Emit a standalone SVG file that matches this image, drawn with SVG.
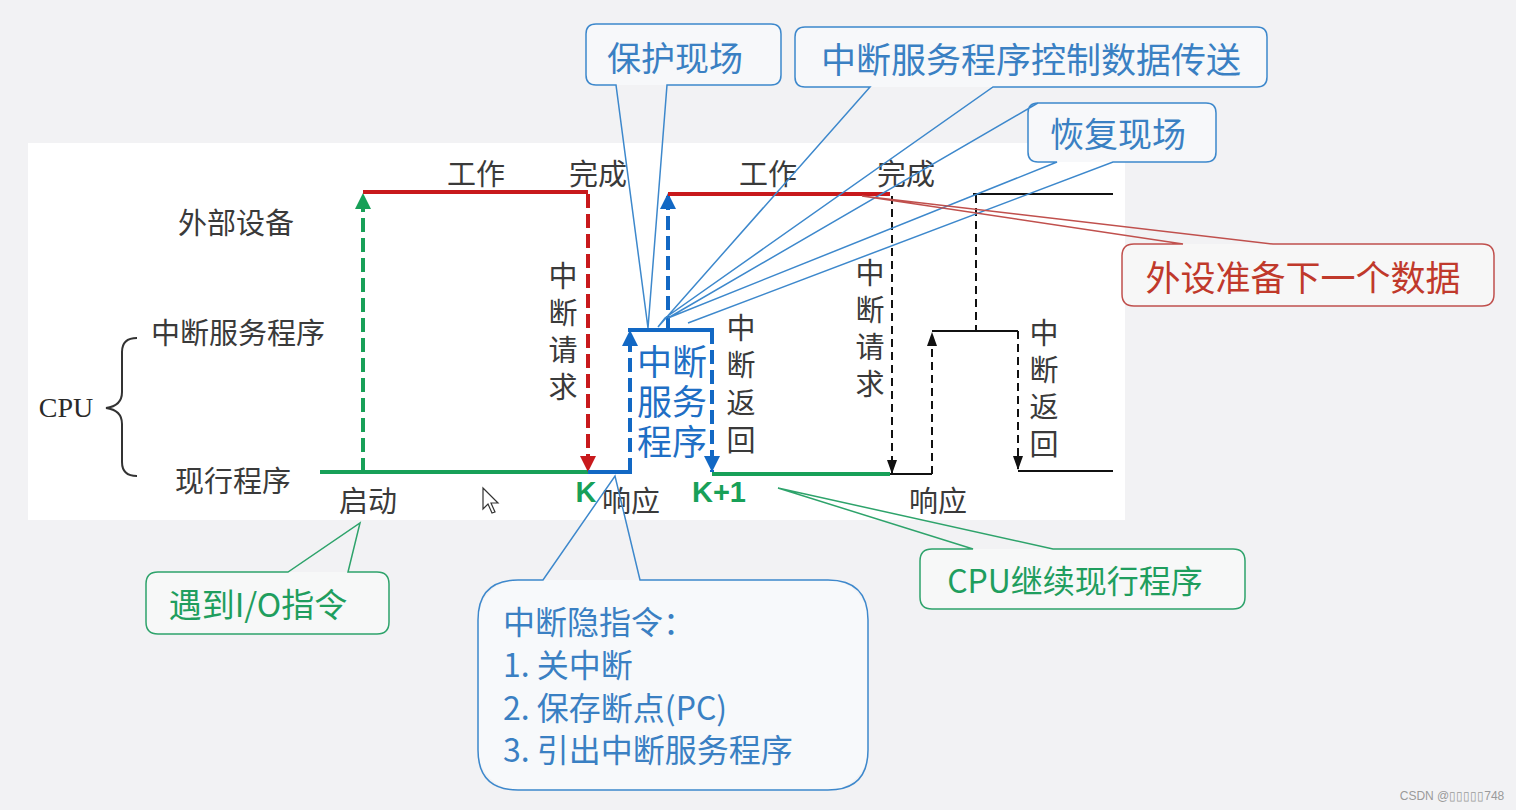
<svg xmlns="http://www.w3.org/2000/svg" width="1516" height="810" viewBox="0 0 1516 810">
<style>
.lbl{font-family:"Noto Sans CJK SC","Noto Sans",sans-serif;font-size:29px;fill:#3a3a3a;text-anchor:middle;dominant-baseline:central}
.vt{font-family:"Noto Sans CJK SC","Noto Sans",sans-serif;font-size:29px;fill:#3a3a3a;writing-mode:vertical-rl;text-anchor:start;letter-spacing:8px}
.blu{font-family:"Liberation Sans","Noto Sans CJK SC",sans-serif;font-size:35px;fill:#1f6fc5;text-anchor:middle;dominant-baseline:central}
.k{font-family:"Liberation Sans","Noto Sans",sans-serif;font-size:29px;font-weight:bold;fill:#18a058;text-anchor:middle;dominant-baseline:central}
.ct{font-family:"Noto Sans CJK SC","Noto Sans",sans-serif;text-anchor:middle;dominant-baseline:central}
.cs{font-family:"Noto Sans CJK SC","Noto Sans",sans-serif;text-anchor:start;dominant-baseline:central}
.cb{fill:#3a80c3}.cg{fill:#1f9e5e}.cr{fill:#c0392b}
.co{fill:none;stroke-width:1.5}
.sb{stroke:#3d88cc}.sg{stroke:#2ea36b}.sr{stroke:#c0504d}
.g{stroke:#18a058;stroke-width:4;fill:none}
.r{stroke:#c8191c;stroke-width:4;fill:none}
.b{stroke:#1268c4;stroke-width:4;fill:none}
.k1{stroke:#111;stroke-width:2;fill:none}
.d{stroke-dasharray:14 6}
.dk{stroke-dasharray:8 5}
</style>
<defs>
<marker id="ag" markerUnits="userSpaceOnUse" markerWidth="16" markerHeight="18" refX="16" refY="8" orient="auto"><path d="M0,0 L16,8 L0,16 Z" fill="#18a058"/></marker>
<marker id="ar" markerUnits="userSpaceOnUse" markerWidth="16" markerHeight="18" refX="16" refY="8" orient="auto"><path d="M0,0 L16,8 L0,16 Z" fill="#c8191c"/></marker>
<marker id="ab" markerUnits="userSpaceOnUse" markerWidth="16" markerHeight="18" refX="16" refY="8" orient="auto"><path d="M0,0 L16,8 L0,16 Z" fill="#1268c4"/></marker>
<marker id="ak" markerUnits="userSpaceOnUse" markerWidth="14" markerHeight="12" refX="14" refY="5" orient="auto"><path d="M0,0 L14,5 L0,10 Z" fill="#111"/></marker>
</defs>
<rect width="1516" height="810" fill="#f2f2f4"/>
<rect x="28" y="143" width="1097" height="377" fill="#ffffff"/>

<g id="labels">
<text class="lbl" x="236" y="221">外部设备</text>
<text class="lbl" x="238" y="331">中断服务程序</text>
<text class="lbl" x="233" y="479">现行程序</text>
<text x="66" y="407" font-family="Liberation Serif,serif" font-size="28" fill="#2a2a2a" text-anchor="middle" dominant-baseline="central">CPU</text>
<path d="M137,338 Q122,338 122,352 V392 Q122,406 106,408 Q122,410 122,424 V462 Q122,476 137,476" fill="none" stroke="#333" stroke-width="2"/>
<text class="lbl" x="476" y="172">工作</text>
<text class="lbl" x="598" y="172">完成</text>
<text class="lbl" x="768" y="172">工作</text>
<text class="lbl" x="906" y="172">完成</text>
<text class="lbl" x="368" y="499">启动</text>
<text class="lbl" x="631" y="499">响应</text>
<text class="lbl" x="938" y="499">响应</text>
<text class="k" x="586" y="492">K</text>
<text class="k" x="719" y="492">K+1</text>
<text class="vt" x="563" y="261.5">中断请求</text>
<text class="vt" x="741" y="313.5" style="letter-spacing:8.3px">中断返回</text>
<text class="vt" x="870" y="258.5">中断请求</text>
<text class="vt" x="1044" y="318.5">中断返回</text>
<text class="blu"><tspan x="672" y="362">中断</tspan><tspan x="672" y="402">服务</tspan><tspan x="672" y="442">程序</tspan></text>
</g>

<g id="connectors">
<line class="g" x1="320" y1="472" x2="588" y2="472"/>
<line class="g d" x1="363" y1="472" x2="363" y2="193" marker-end="url(#ag)"/>
<line class="r" x1="363" y1="192" x2="588" y2="192"/>
<line class="r d" x1="588" y1="194" x2="588" y2="472" marker-end="url(#ar)"/>
<line class="b" x1="588" y1="472" x2="632" y2="472"/>
<line class="b d" x1="630" y1="472" x2="630" y2="330" marker-end="url(#ab)"/>
<line class="b" x1="628" y1="330" x2="714" y2="330"/>
<line class="b d" x1="668" y1="330" x2="668" y2="193" marker-end="url(#ab)"/>
<line class="b d" x1="712" y1="330" x2="712" y2="472" marker-end="url(#ab)"/>
<line class="r" x1="668" y1="194" x2="890" y2="194"/>
<line class="g" x1="712" y1="474" x2="890" y2="474"/>
<line class="k1 dk" x1="892" y1="196" x2="892" y2="474" marker-end="url(#ak)"/>
<line class="k1" x1="890" y1="474" x2="932" y2="474"/>
<line class="k1 dk" x1="932" y1="474" x2="932" y2="332" marker-end="url(#ak)"/>
<line class="k1" x1="932" y1="331" x2="1018" y2="331"/>
<line class="k1 dk" x1="976" y1="195" x2="976" y2="331"/>
<line class="k1" x1="973" y1="194" x2="1113" y2="194"/>
<line class="k1 dk" x1="1018" y1="331" x2="1018" y2="470" marker-end="url(#ak)"/>
<line class="k1" x1="1018" y1="471" x2="1113" y2="471"/>
</g>

<g id="cursor">
<path d="M483,488 L483,509 L488,504 L492,513 L495,512 L491,503 L498,503 Z" fill="#fff" stroke="#333" stroke-width="1.2"/>
</g>

<g id="callout-baohu">
<rect x="586" y="24" width="195" height="61" rx="10" fill="#f7f8fa"/>
<path class="co sb" d="M596,24 H771 Q781,24 781,34 V75 Q781,85 771,85 H667 L648,328 L616,85 H596 Q586,85 586,75 V34 Q586,24 596,24 Z"/>
<text class="ct cb" x="675" y="56" font-size="34">保护现场</text>
</g>

<g id="callout-kongzhi">
<rect x="795" y="27" width="472" height="60" rx="10" fill="#f7f8fa"/>
<path class="co sb" d="M805,27 H1257 Q1267,27 1267,37 V77 Q1267,87 1257,87 H993 L665,318 L658,327 L870,87 H805 Q795,87 795,77 V37 Q795,27 805,27 Z"/>
<text class="ct cb" x="1031" y="57" font-size="35">中断服务程序控制数据传送</text>
</g>

<g id="callout-huifu">
<rect x="1028" y="103" width="188" height="59" rx="10" fill="#f7f8fa"/>
<path class="co sb" d="M1038,103 H1206 Q1216,103 1216,113 V152 Q1216,162 1206,162 H1113 L688,323 M668,318 L1057,162 H1038 Q1028,162 1028,152 V113 Q1028,103 1038,103 Z"/>
<text class="ct cb" x="1118" y="132" font-size="34">恢复现场</text>
</g>

<g id="callout-waishe">
<rect x="1122" y="244" width="372" height="62" rx="12" fill="#f7f7f7"/>
<path class="co sr" d="M1134,244 H1183 L862,196 L1273,244 H1482 Q1494,244 1494,256 V294 Q1494,306 1482,306 H1134 Q1122,306 1122,294 V256 Q1122,244 1134,244 Z"/>
<text class="ct cr" x="1303" y="275" font-size="35">外设准备下一个数据</text>
</g>

<g id="callout-io">
<rect x="146" y="572" width="243" height="62" rx="12" fill="#f7f8f8"/>
<path class="co sg" d="M158,572 H288 L360,523 L348,572 H377 Q389,572 389,584 V622 Q389,634 377,634 H158 Q146,634 146,622 V584 Q146,572 158,572 Z"/>
<text class="ct cg" x="258" y="603" font-size="33">遇到I/O指令</text>
</g>

<g id="callout-jixu">
<rect x="920" y="549" width="325" height="60" rx="12" fill="#f7f8f8"/>
<path class="co sg" d="M932,549 H973 L778,488 L1053,549 H1233 Q1245,549 1245,561 V597 Q1245,609 1233,609 H932 Q920,609 920,597 V561 Q920,549 932,549 Z"/>
<text class="ct cg" x="1075" y="579" font-size="32">CPU继续现行程序</text>
</g>

<g id="callout-yin">
<rect x="478" y="580" width="390" height="210" rx="40" fill="#f7f9fb"/>
<path class="co sb" d="M518,580 H543 L615,476 L640,580 H828 Q868,580 868,620 V750 Q868,790 828,790 H518 Q478,790 478,750 V620 Q478,580 518,580 Z"/>
<text class="cs cb" font-size="32"><tspan x="503" y="620">中断隐指令：</tspan><tspan x="503" y="663">1. 关中断</tspan><tspan x="503" y="706">2. 保存断点(PC)</tspan><tspan x="503" y="748">3. 引出中断服务程序</tspan></text>
</g>

<text x="1452" y="796" font-family="Liberation Sans,sans-serif" font-size="12" fill="#9a9a9a" text-anchor="middle" dominant-baseline="central">CSDN @▯▯▯▯▯748</text>
</svg>
